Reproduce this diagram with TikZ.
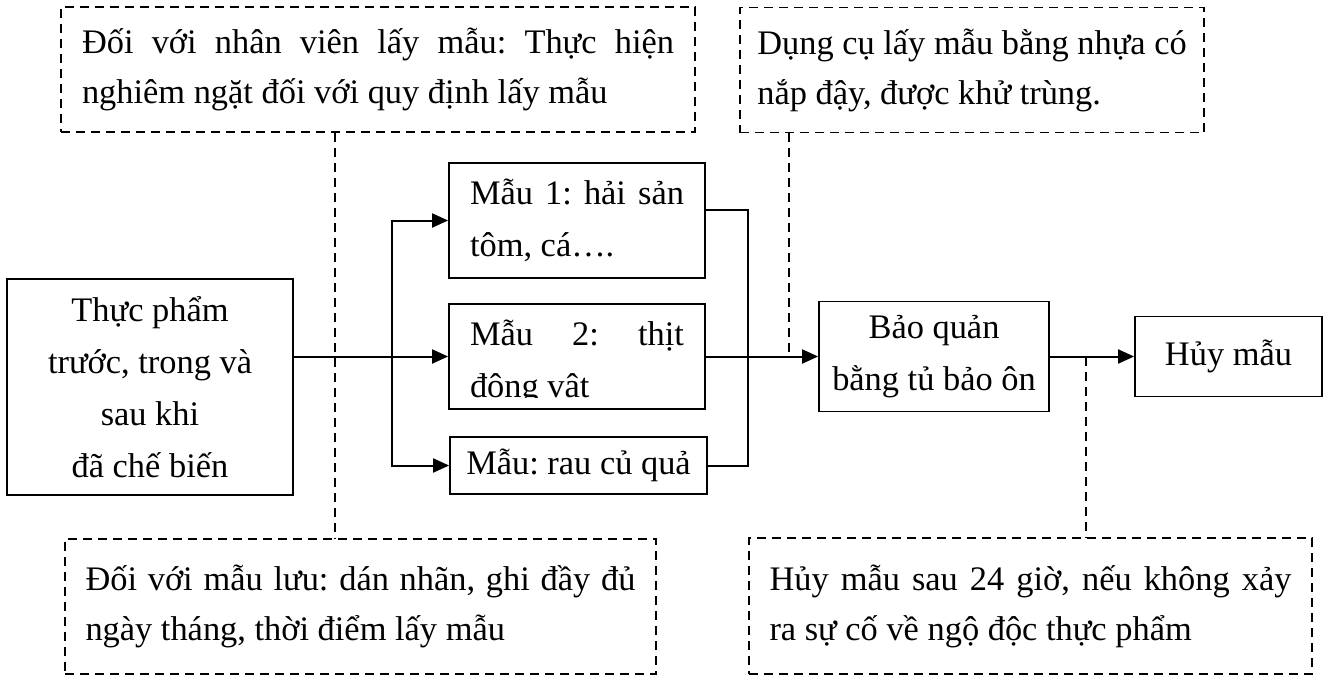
\documentclass[tikz,border=0pt]{standalone}
\usepackage{fontspec}
\setmainfont{Liberation Serif}
\usepackage{tikz}
\usetikzlibrary{arrows.meta}
\frenchspacing

\newcommand{\boxfont}{\fontsize{17.2}{26}\selectfont}
\newcommand{\notefont}{\fontsize{17.2}{25}\selectfont}
\newcommand{\jline}[2]{\makebox[#1][s]{#2}}

\tikzset{
  box/.style={draw, line width=0.9pt, inner sep=0pt, align=center, font=\boxfont},
  txt/.style={inner sep=0pt, align=left, font=\boxfont},
  note/.style={draw, dash pattern=on 4.5pt off 3pt, line width=0.8pt, inner sep=0pt, align=left, font=\notefont},
  link/.style={line width=1pt},
  arr/.style={line width=1pt, -{Triangle[length=8pt,width=7pt]}},
  guide/.style={dash pattern=on 4.5pt off 3pt, line width=0.8pt},
}

\begin{document}
\begin{tikzpicture}[x=0.5pt,y=-0.5pt]
        \path[use as bounding box, fill=white] (0,0) rectangle (1328,675);
        %% dashed notes
        \node[note, minimum width=317pt, minimum height=62.5pt] (tl) at (378,69.5)
            {\jline{296pt}{Đối với nhân viên lấy mẫu: Thực hiện}\\nghiêm ngặt đối với quy định lấy mẫu};
        \node[note, minimum width=232pt, minimum height=62.5pt] (tr) at (972,70)
            {Dụng cụ lấy mẫu bằng nhựa có\\nắp đậy, được khử trùng.};
        \node[note, minimum width=295.5pt, minimum height=67.5pt] (bl) at (360.5,606.5)
            {\jline{275pt}{Đối với mẫu lưu: dán nhãn, ghi đầy đủ}\\ngày tháng, thời điểm lấy mẫu};
        \node[note, minimum width=281.5pt, minimum height=68pt] (br) at (1030.5,606)
            {\jline{261pt}{Hủy mẫu sau 24 giờ, nếu không xảy}\\ra sự cố về ngộ độc thực phẩm};
        %% boxes
        \node[box, minimum width=143pt, minimum height=108pt] (src) at (150,387)
            {Thực phẩm\\trước, trong và\\sau khi\\đã chế biến};
        \node[box, align=left, minimum width=128pt, minimum height=57.5pt] (m1) at (577,220.5)
            {\jline{107pt}{Mẫu 1: hải sản}\\tôm, cá….};
        \node[box, minimum width=128pt, minimum height=52.5pt] (m2) at (577,356.5) {};
        \begin{scope}
            \clip (m2.north west) rectangle ([yshift=6pt]m2.south east);
            \node[txt] (m2t) at ([yshift=-3pt]m2.center) {\jline{107pt}{Mẫu 2: thịt}\\động vật};
        \end{scope}
        \node[box, minimum width=128.5pt, minimum height=28.5pt] (m3) at (578.5,465.5)
            {Mẫu: rau củ quả};
        \node[box, minimum width=115pt, minimum height=55pt] (bq) at (934,356.5)
            {Bảo quản\\bằng tủ bảo ôn};
        \node[box, minimum width=93.5pt, minimum height=40pt] (huy) at (1228.5,356.5)
            {Hủy mẫu};
        %% branch points
        \coordinate (split) at (392,356.5);
        \coordinate (join) at (748,356.5);
        \coordinate (lk1) at (335,0);
        \coordinate (lk2) at (789,0);
        \coordinate (lk3) at (1086,0);
        %% connectors
        \draw[link] (src.east |- m2.west) -- (split);
        \draw[arr] (split) -- (m2.west);
        \draw[arr] (split) |- (m1.west);
        \draw[arr] (split) |- (m3.west);
        \draw[link] ([yshift=5.5pt]m1.east) -| (join);
        \draw[link] (m3.east) -| (join);
        \draw[arr] (m2.east) -- (bq.west);
        \draw[arr] (bq.east) -- (huy.west);
        %% dashed links
        \draw[guide] (tl.south -| lk1) -- (bl.north -| lk1);
        \draw[guide] (tr.south -| lk2) -- (lk2 |- m2.east);
        \draw[guide] (lk3 |- bq.east) -- (br.north -| lk3);
    \end{tikzpicture}
\end{document}
